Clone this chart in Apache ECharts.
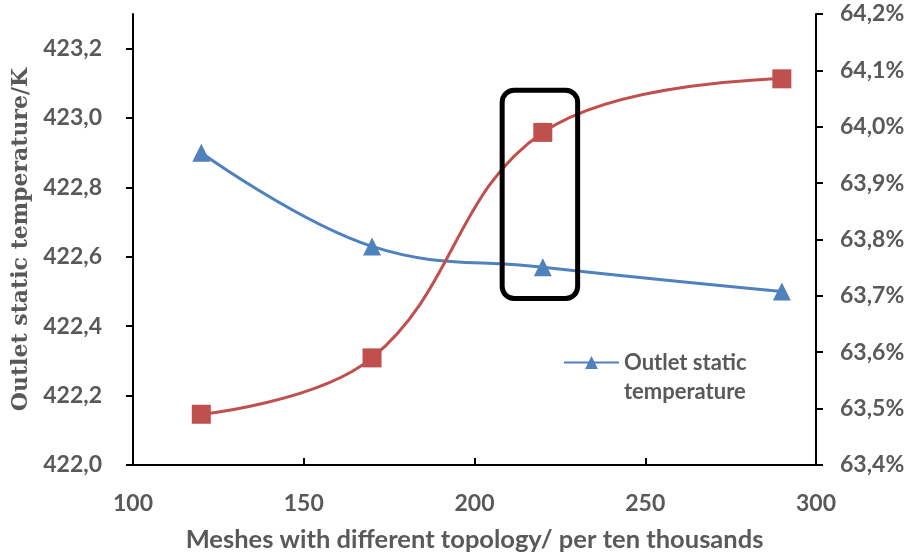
<!DOCTYPE html>
<html><head><meta charset="utf-8">
<script src="https://cdn.jsdelivr.net/npm/echarts@6/dist/echarts.min.js"></script>
<style>html,body{margin:0;padding:0;background:#fff}#c{width:913px;height:554px}</style>
</head><body><div id="c"></div>
<script>
const meshes = [120, 170, 220, 290];
const temperature = [422.90, 422.63, 422.57, 422.50];
const efficiency = [63.49, 63.59, 63.99, 64.085];
const xTitle = 'Meshes with different topology/ per ten thousands';
const yTitle = 'Outlet static temperature/K';
const legendName = 'Outlet static\ntemperature';
const highlightX = [208.1, 230.2];
const highlightY = [423.080, 422.480];

const chart = echarts.init(document.getElementById('c'), null, {renderer: 'canvas'});
const lblFont = {color: '#595959', fontWeight: 'bold', fontSize: 23, fontFamily: 'Lato'};
const comma = v => v.toFixed(1).replace('.', ',');
chart.setOption({
  animation: false,
  grid: {left: 133, right: 97, top: 14, bottom: 89, outerBoundsMode: 'none', containLabel: false},
  legend: {
    data: [{name: legendName}], left: 563, top: 319, padding: 0, itemWidth: 55, itemHeight: 16,
    formatter: n => '\n' + n,
    textStyle: {color: '#595959', fontWeight: 'bold', fontSize: 22, fontFamily: 'Lato', lineHeight: 29},
    itemGap: 5
  },
  xAxis: {
    type: 'value', min: 100, max: 300, interval: 50,
    name: xTitle, nameLocation: 'middle', nameGap: 62,
    nameTextStyle: {color: '#595959', fontWeight: 'bold', fontSize: 25.5, fontFamily: 'Lato'},
    axisLine: {lineStyle: {color: '#000', width: 2}},
    axisTick: {inside: true, length: 7, lineStyle: {color: '#000', width: 2}},
    axisLabel: Object.assign({margin: 27}, lblFont),
    splitLine: {show: false}
  },
  yAxis: [{
    type: 'value', min: 422, max: 423.3, interval: 0.2, position: 'left',
    name: yTitle, nameLocation: 'middle', nameGap: 96, nameRotate: 90,
    nameTextStyle: {color: '#595959', fontWeight: 'bold', fontSize: 22, fontFamily: 'DejaVu Serif'},
    axisLine: {show: true, lineStyle: {color: '#000', width: 2}},
    axisTick: {show: true, length: 7, lineStyle: {color: '#000', width: 2}},
    axisLabel: Object.assign({margin: 31, formatter: comma, showMaxLabel: false}, lblFont),
    splitLine: {show: false}
  }, {
    type: 'value', min: 63.4, max: 64.2, interval: 0.1, position: 'right',
    axisLine: {show: true, lineStyle: {color: '#000', width: 2}},
    axisTick: {show: true, length: 7, lineStyle: {color: '#000', width: 2}},
    axisLabel: Object.assign({margin: 24, formatter: v => comma(v) + '%'}, lblFont),
    splitLine: {show: false}
  }],
  series: [{
    name: legendName, type: 'line', yAxisIndex: 0, smooth: 0.4,
    data: meshes.map((m, i) => [m, temperature[i]]),
    symbol: 'triangle', symbolSize: 18,
    lineStyle: {color: '#4F81BD', width: 3}, itemStyle: {color: '#4F81BD'}
  }, {
    name: 'efficiency', type: 'line', yAxisIndex: 1, smooth: 0.4,
    data: meshes.map((m, i) => [m, efficiency[i]]),
    symbol: 'rect', symbolSize: 19,
    lineStyle: {color: '#C0504D', width: 3}, itemStyle: {color: '#C0504D'}
  }]
});
const p1 = chart.convertToPixel({xAxisIndex: 0, yAxisIndex: 0}, [highlightX[0], highlightY[0]]);
const p2 = chart.convertToPixel({xAxisIndex: 0, yAxisIndex: 0}, [highlightX[1], highlightY[1]]);
chart.setOption({graphic: [{
  type: 'rect', z: 100,
  shape: {x: p1[0], y: p1[1], width: p2[0] - p1[0], height: p2[1] - p1[1], r: 12},
  style: {fill: 'none', stroke: '#000', lineWidth: 5}
}]});
</script></body></html>
